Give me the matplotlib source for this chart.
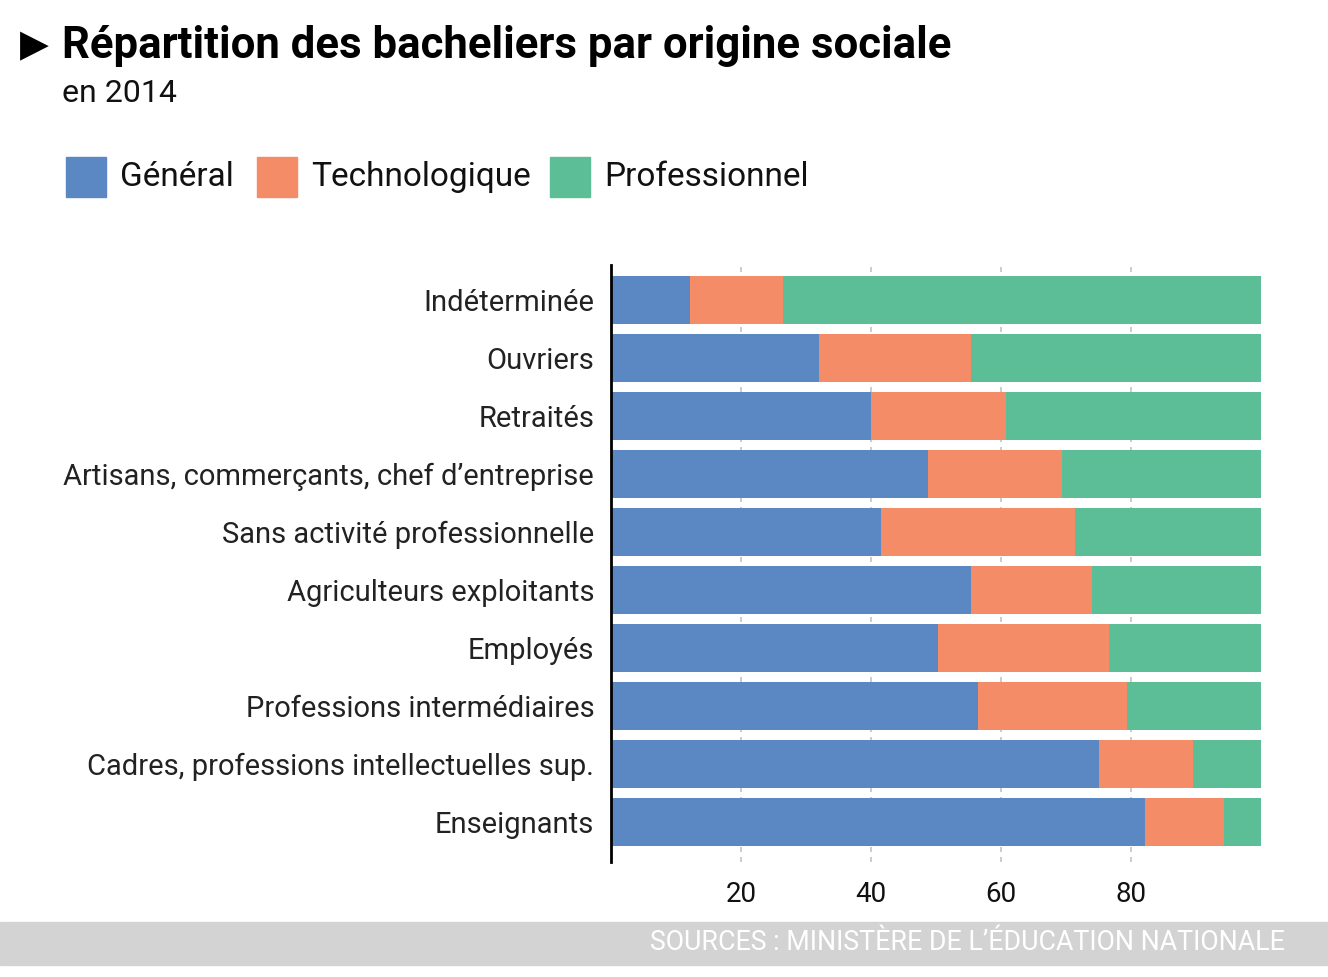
import matplotlib
matplotlib.use("Agg")
import matplotlib.pyplot as plt
from matplotlib.patches import Rectangle
from matplotlib import font_manager as fm
import numpy as np

names = {f.name for f in fm.fontManager.ttflist}
FAM = [n for n in ["Liberation Sans Narrow", "Roboto", "DejaVu Sans"] if n in names] + ["DejaVu Sans"]
plt.rcParams['font.family'] = FAM

categories = ["Indéterminée", "Ouvriers", "Retraités",
              "Artisans, commerçants, chef d’entreprise",
              "Sans activité professionnelle", "Agriculteurs exploitants",
              "Employés", "Professions intermédiaires",
              "Cadres, professions intellectuelles sup.", "Enseignants"]
general = [12.2, 32.0, 40.0, 48.8, 41.5, 55.4, 50.3, 56.5, 75.1, 82.2]
techno = [14.3, 23.4, 20.8, 20.6, 29.9, 18.6, 26.3, 22.9, 14.4, 12.1]
pro = [73.5, 44.6, 39.2, 30.6, 28.6, 26.0, 23.4, 20.6, 10.5, 5.7]
series_names = ["Général", "Technologique", "Professionnel"]
colors = ["#5b87c2", "#f48c67", "#5cbe96"]
xticks = [20, 40, 60, 80]

fig = plt.figure(figsize=(13.28, 9.77), dpi=100)
ax = fig.add_axes([0.460, 0.1177, 0.4895, 0.611])

y = np.arange(len(categories))
left = np.zeros(len(categories))
for vals, c in zip([general, techno, pro], colors):
    ax.barh(y, vals, left=left, height=0.83, color=c, zorder=2)
    left += np.array(vals)

ax.set_xlim(0, 100)
ax.set_ylim(len(categories) - 1 + 0.69, -0.6)
ax.set_yticks(y)
ax.set_yticklabels(categories, fontsize=21, color="#222222")
ax.set_xticks(xticks)
ax.set_xticklabels([str(t) for t in xticks], fontsize=20, color="#111111")
ax.tick_params(axis='y', length=0, pad=12)
ax.tick_params(axis='x', length=0, pad=14)
ax.grid(axis='x', linestyle=(0, (3, 3)), color="#c4c4c4", linewidth=1.2, zorder=0)
for s in ["top", "right", "bottom"]:
    ax.spines[s].set_visible(False)
ax.spines["left"].set_color("black")
ax.spines["left"].set_linewidth(2)

W, H = 1328, 977
def fx(px): return px / W
def fy(py): return 1 - py / H

# Title
fig.text(fx(20), fy(46), "▶", fontsize=27, va="center", ha="left", color="black", family=["DejaVu Sans"])
fig.text(fx(62), fy(46), "Répartition des bacheliers par origine sociale", fontsize=31.5,
         fontweight="bold", va="center", ha="left", color="black")
fig.text(fx(62), fy(93), "en 2014", fontsize=23, va="center", ha="left", color="#111111")

# Legend
leg_x = [66, 257, 550]
for lx, name, c in zip(leg_x, series_names, colors):
    fig.patches.append(Rectangle((fx(lx), fy(197)), 40 / W, 40 / H, transform=fig.transFigure,
                                 color=c, zorder=3))
    fig.text(fx(lx + 54), fy(177), name, fontsize=24, va="center", ha="left", color="#111111")

# Footer
fig.patches.append(Rectangle((0, fy(965)), 1, 43 / H, transform=fig.transFigure,
                             color="#d3d3d3", zorder=1))
fig.text(fx(1285), fy(943), "SOURCES : MINISTÈRE DE L’ÉDUCATION NATIONALE", fontsize=19.3,
         va="center", ha="right", color="white")

fig.savefig("out.png", dpi=100, facecolor="white")
